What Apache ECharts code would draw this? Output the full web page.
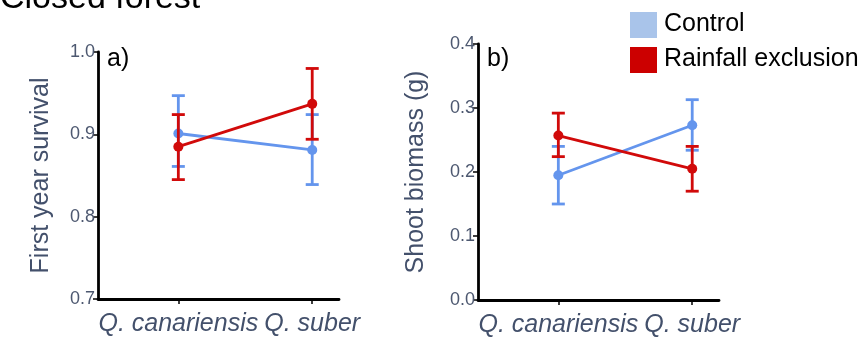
<!DOCTYPE html>
<html>
<head>
<meta charset="utf-8">
<script src="https://cdn.jsdelivr.net/npm/echarts@6/dist/echarts.min.js"></script>
<style>
  html, body { margin: 0; padding: 0; background: #ffffff; }
  #chart { width: 865px; height: 338px; }
</style>
</head>
<body>
<div id="chart"></div>
<script>
// Species on the x axis (positions 1 and 2 on a numeric axis)
const categories = ['Q. canariensis', 'Q. suber'];
const categoryPos = [1, 2];

// a) First year survival
const survivalControl = [0.901, 0.881];
const survivalControlLow = [0.861, 0.839];
const survivalControlHigh = [0.947, 0.924];
const survivalExclusion = [0.885, 0.937];
const survivalExclusionLow = [0.845, 0.894];
const survivalExclusionHigh = [0.924, 0.980];

// b) Shoot biomass (g)
const biomassControl = [0.195, 0.273];
const biomassControlLow = [0.150, 0.234];
const biomassControlHigh = [0.240, 0.313];
const biomassExclusion = [0.257, 0.205];
const biomassExclusionLow = [0.224, 0.170];
const biomassExclusionHigh = [0.292, 0.240];

const survivalTicks = [0.7, 0.8, 0.9, 1.0];
const biomassTicks = [0.0, 0.1, 0.2, 0.3, 0.4];

const BLUE = '#6495ed';
const RED = '#d10a0a';
const FONT = 'Liberation Sans, Arial, sans-serif';
const AXIS_TEXT = '#43506b';

const chart = echarts.init(document.getElementById('chart'), null, { renderer: 'canvas' });

function points(values) {
  return values.map((v, i) => [categoryPos[i], v]);
}
function bars(low, high) {
  return low.map((l, i) => [categoryPos[i], l, high[i]]);
}

function errorBars(idx, low, high, color) {
  return {
    type: 'custom',
    xAxisIndex: idx,
    yAxisIndex: idx,
    data: bars(low, high),
    z: color === RED ? 4 : 2,
    silent: true,
    renderItem: function (params, api) {
      const x = api.value(0);
      const p1 = api.coord([x, api.value(1)]);
      const p2 = api.coord([x, api.value(2)]);
      const half = 6.5;
      const style = { stroke: color, lineWidth: 2.8 };
      return {
        type: 'group',
        children: [
          { type: 'line', shape: { x1: p1[0], y1: p1[1], x2: p2[0], y2: p2[1] }, style: style },
          { type: 'line', shape: { x1: p1[0] - half, y1: p1[1], x2: p1[0] + half, y2: p1[1] }, style: style },
          { type: 'line', shape: { x1: p2[0] - half, y1: p2[1], x2: p2[0] + half, y2: p2[1] }, style: style }
        ]
      };
    }
  };
}

function meanLine(idx, values, color) {
  return {
    type: 'line',
    xAxisIndex: idx,
    yAxisIndex: idx,
    data: points(values),
    symbol: 'circle',
    symbolSize: 10,
    z: color === RED ? 5 : 3,
    lineStyle: { color: color, width: 2.8 },
    itemStyle: { color: color },
    silent: true,
    animation: false
  };
}

function xAxisFor(idx) {
  return {
    type: 'value',
    gridIndex: idx,
    min: 0.4,
    max: 2.2,
    splitLine: { show: false },
    axisLine: { show: true, onZero: false, lineStyle: { color: '#000', width: 2.8 } },
    axisTick: { show: true, customValues: categoryPos, length: 5, lineStyle: { color: '#000', width: 1.5 } },
    axisLabel: {
      customValues: categoryPos,
      formatter: v => categories[categoryPos.indexOf(Math.round(v))] || '',
      color: AXIS_TEXT,
      fontFamily: FONT,
      fontSize: 25,
      fontStyle: 'italic',
      margin: 13
    }
  };
}

function yAxisFor(idx, ticks, name, nameGap) {
  return {
    type: 'value',
    gridIndex: idx,
    min: ticks[0],
    max: ticks[ticks.length - 1],
    interval: 0.1,
    name: name,
    nameLocation: 'middle',
    nameGap: nameGap,
    nameTextStyle: { color: AXIS_TEXT, fontFamily: FONT, fontSize: 25 },
    splitLine: { show: false },
    axisLine: { show: true, lineStyle: { color: '#000', width: 2.8 } },
    axisTick: { show: true, length: 5, lineStyle: { color: '#000', width: 1.5 } },
    axisLabel: {
      color: '#4d5870',
      fontFamily: FONT,
      fontSize: 18,
      margin: 3,
      formatter: v => v.toFixed(1)
    }
  };
}

chart.setOption({
  animation: false,
  backgroundColor: '#ffffff',
  grid: [
    { left: 98, width: 241, top: 52, bottom: 39 },
    { left: 478, width: 241, top: 44, bottom: 38 }
  ],
  xAxis: [xAxisFor(0), xAxisFor(1)],
  yAxis: [
    yAxisFor(0, survivalTicks, 'First year survival', 44),
    yAxisFor(1, biomassTicks, 'Shoot biomass (g)', 49)
  ],
  series: [
    errorBars(0, survivalControlLow, survivalControlHigh, BLUE),
    meanLine(0, survivalControl, BLUE),
    errorBars(0, survivalExclusionLow, survivalExclusionHigh, RED),
    meanLine(0, survivalExclusion, RED),
    errorBars(1, biomassControlLow, biomassControlHigh, BLUE),
    meanLine(1, biomassControl, BLUE),
    errorBars(1, biomassExclusionLow, biomassExclusionHigh, RED),
    meanLine(1, biomassExclusion, RED)
  ],
  graphic: [
    { type: 'text', left: 0, top: -18, style: { text: 'Closed forest', fontFamily: FONT, fontSize: 34, fill: '#000' } },
    { type: 'text', left: 107, top: 47, style: { text: 'a)', fontFamily: FONT, fontSize: 25, fill: '#000' } },
    { type: 'text', left: 487, top: 47, style: { text: 'b)', fontFamily: FONT, fontSize: 25, fill: '#000' } },
    { type: 'rect', shape: { x: 630, y: 12, width: 27, height: 26 }, style: { fill: '#a9c4ea' } },
    { type: 'rect', shape: { x: 630, y: 47, width: 27, height: 26 }, style: { fill: '#cc0000' } },
    { type: 'text', left: 664, top: 12, style: { text: 'Control', fontFamily: FONT, fontSize: 25, fill: '#000' } },
    { type: 'text', left: 664, top: 47, style: { text: 'Rainfall exclusion', fontFamily: FONT, fontSize: 25, fill: '#000' } }
  ]
});
</script>
</body>
</html>
